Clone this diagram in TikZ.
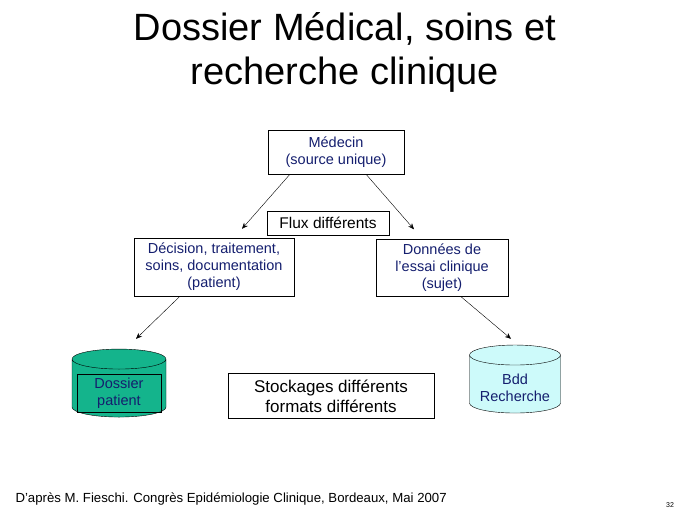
\documentclass[tikz,border=0pt]{standalone}
\usepackage{fontspec}
\setmainfont{Liberation Sans}
\usetikzlibrary{positioning, shapes.geometric, arrows.meta}
\definecolor{navytext}{RGB}{20,30,110}
\definecolor{tealdb}{RGB}{20,180,140}
\definecolor{cyandb}{RGB}{205,250,250}
\tikzset{
	box/.style={draw, rectangle, inner sep=2pt, align=center, font=\fontsize{14.5}{17}\selectfont},
	dbase/.style={draw, cylinder, shape border rotate=90, aspect=3, align=center, text=navytext},
}
\begin{document}
\begin{tikzpicture}[x=1pt, y=1pt]
	\useasboundingbox (0,0) rectangle (689,-517);
	
	\node (title) at (345,-52) [align=center, font=\fontsize{38}{44}\selectfont] {Dossier Médical, soins et\\recherche clinique};
	
	\node (med) [box, text=navytext, minimum width=136pt, minimum height=44pt] at (336,-152) {Médecin\\(source unique)};
	\node (flux) [box, minimum width=122pt, minimum height=24pt, font=\fontsize{15.5}{18}\selectfont] at (328,-223) {Flux différents};
	\node (dec) [box, text=navytext, minimum width=160pt, minimum height=58pt] at (214,-267) {Décision, traitement,\\soins, documentation\\(patient)};
	\node (don) [box, text=navytext, minimum width=132pt, minimum height=57pt] at (442,-268) {Données de\\l’essai clinique\\(sujet)};
	\node (dos) [dbase, fill=tealdb, minimum width=94pt, minimum height=68pt] at (119,-390) {};
	\node (dosin) [draw, rectangle, inner sep=0pt, align=center, minimum width=84pt, minimum height=38pt, text=navytext, font=\fontsize{14.5}{17}\selectfont] at (119,-393) {Dossier\\patient};
	\node (stock) [box, minimum width=206pt, minimum height=45pt, font=\fontsize{17}{20}\selectfont] at (331,-396) {Stockages différents\\formats différents};
	\node (bdd) [dbase, fill=cyandb, minimum width=91pt, minimum height=68pt] at (515,-386) {};
	\node (bddtxt) [align=center, text=navytext, font=\fontsize{14.5}{17}\selectfont] at (515,-388) {Bdd\\Recherche};
	
	\node (src) [anchor=base west, font=\fontsize{13.2}{15}\selectfont] at (12,-502) {D’après M. Fieschi. Congrès Epidémiologie Clinique, Bordeaux, Mai 2007};
	\node (num) [font=\fontsize{7}{8}\selectfont] at (670,-505) {32};
	
	\begin{scope}[black, -{Stealth[length=6pt,width=5pt]}]
		\draw ([xshift=-46pt]med.south) -- ([xshift=28pt,yshift=9pt]dec.north);
		\draw ([xshift=30pt]med.south) -- ([xshift=-28pt,yshift=10pt]don.north);
		\draw ([xshift=-34pt]dec.south) -- ([xshift=17pt,yshift=10pt]dos.north);
		\draw ([xshift=19pt]don.south) -- ([xshift=-4pt,yshift=6pt]bdd.north);
	\end{scope}
\end{tikzpicture}
\end{document}
